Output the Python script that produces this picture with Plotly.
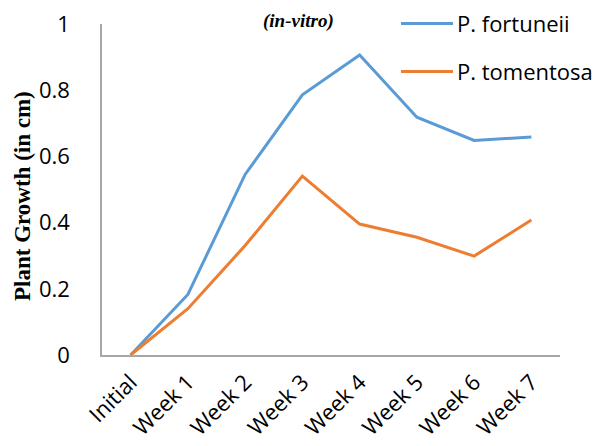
import plotly.graph_objects as go

categories = ["Initial", "Week 1", "Week 2", "Week 3", "Week 4", "Week 5", "Week 6", "Week 7"]
fortuneii = [0.0, 0.183, 0.546, 0.787, 0.907, 0.719, 0.649, 0.659]
tomentosa = [0.0, 0.140, 0.331, 0.541, 0.396, 0.356, 0.299, 0.408]
series_names = ["P. fortuneii", "P. tomentosa"]
colors = ["#5B9BD5", "#ED7D31"]
y_ticks = [0, 0.2, 0.4, 0.6, 0.8, 1]
y_tick_text = ["0", "0.2", "0.4", "0.6", "0.8", "1"]

# page body has an 8px margin; figure drawn to fill the rest of the window
OFF = 8
W, H = 605 - OFF, 446 - OFF
L, T = 102 - OFF, 24 - OFF
R = W - (560 - OFF)
B = H - (355 - OFF)
pw, ph = W - L - R, H - T - B

def px_x(p):
    return (p - OFF - L) / pw

def px_y(p):
    return (H - B - (p - OFF)) / ph

fig = go.Figure()
for name, vals, col in zip(series_names, [fortuneii, tomentosa], colors):
    fig.add_trace(go.Scatter(x=categories, y=vals, mode="lines", name=name,
                             line=dict(color=col, width=3), showlegend=False))

tick_font = dict(family="Open Sans", size=22, color="#000000")
xtick_font = dict(family="Open Sans", size=22, color="#000000")
legend_font = dict(family="Open Sans", size=22, color="#000000")

# manual legend
leg_y = [23.5, 71.5]
shapes = []
annotations = []
for name, col, yy in zip(series_names, colors, leg_y):
    shapes.append(dict(type="line", xref="paper", yref="paper",
                       x0=px_x(401), x1=px_x(453), y0=px_y(yy), y1=px_y(yy),
                       line=dict(color=col, width=3)))
    annotations.append(dict(text=name, xref="paper", yref="paper",
                            x=px_x(455), y=px_y(yy), xanchor="left", yanchor="middle",
                            showarrow=False, font=legend_font))

annotations.append(dict(text="<b><i>(in-vitro)</i></b>", xref="paper", yref="paper",
                        x=px_x(298), y=px_y(OFF), xanchor="center", yanchor="top",
                        showarrow=False,
                        font=dict(family="Liberation Serif", size=19, color="#000000")))
annotations.append(dict(text="<b>Plant Growth (in cm)</b>", xref="paper", yref="paper",
                        x=px_x(22), y=px_y(196), xanchor="center", yanchor="middle",
                        textangle=-90, showarrow=False,
                        font=dict(family="Liberation Serif", size=23, color="#000000")))

fig.update_layout(
    width=W, height=H,
    margin=dict(l=L, r=R, t=T, b=B, pad=0),
    paper_bgcolor="white", plot_bgcolor="white",
    shapes=shapes, annotations=annotations,
    showlegend=False,
)
fig.update_xaxes(type="category", range=[-0.5, 7.5], showgrid=False,
                 showline=True, linecolor="#A6A6A6", linewidth=1.5,
                 ticks="", tickangle=-45, tickfont=xtick_font, zeroline=False,
                 ticklabelstandoff=4, automargin=False)
fig.update_yaxes(range=[0, 1.001], tickvals=y_ticks, ticktext=y_tick_text, showgrid=False,
                 showline=True, linecolor="#A6A6A6", linewidth=1.5,
                 ticks="", tickfont=tick_font, zeroline=False,
                 ticklabelstandoff=26, ticklabeloverflow="allow", automargin=False)

fig.write_html("out.html")
